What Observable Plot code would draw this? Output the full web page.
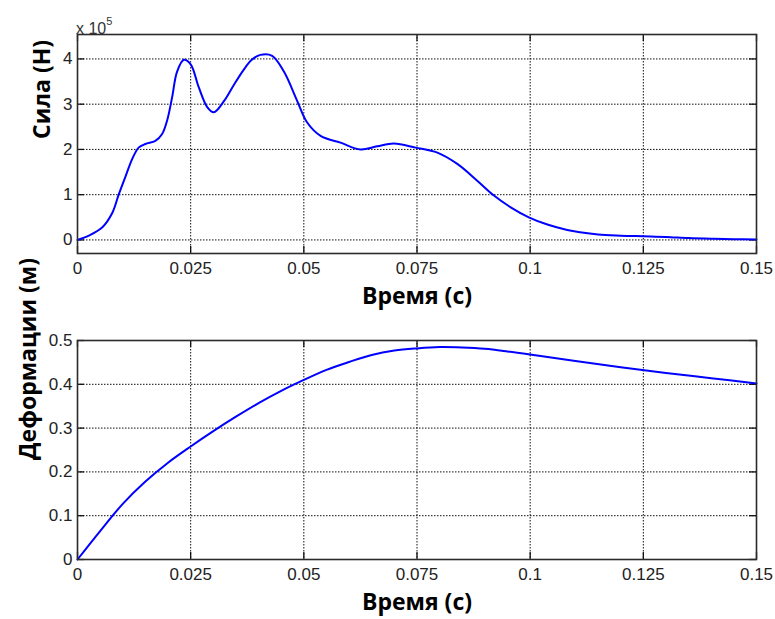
<!DOCTYPE html>
<html>
<head>
<meta charset="utf-8">
<script src="https://cdn.jsdelivr.net/npm/d3@7"></script>
<script src="https://cdn.jsdelivr.net/npm/@observablehq/plot@0.6"></script>
<style>
  html, body { margin: 0; padding: 0; background: #fff; }
  #chart { position: relative; width: 775px; height: 619px; }
  #chart svg { display: block; }
  .multiplier {
    position: absolute; left: 76px; top: 16px;
    font: 16px "Liberation Sans", Arial, sans-serif; line-height: 16px; color: #333;
  }
  .multiplier sup { font-size: 11px; position: relative; top: -3px; }
</style>
</head>
<body>
<div id="chart"></div>
<script>
// Time axis ticks (s)
const xTicks = [0, 0.025, 0.05, 0.075, 0.1, 0.125, 0.15];
const xTickLabels = ["0", "0.025", "0.05", "0.075", "0.1", "0.125", "0.15"];

// Impact force, in units of 10^5 N
const forceTime = [0, 0.0025, 0.0055, 0.0077, 0.0091, 0.0106, 0.0121, 0.0135, 0.015, 0.0172,
  0.0187, 0.0198, 0.0209, 0.022, 0.0235, 0.025, 0.0268, 0.0287, 0.0301, 0.0323, 0.0345, 0.0367,
  0.0385, 0.0404, 0.043, 0.0456, 0.0485, 0.0507, 0.0537, 0.0581, 0.0625, 0.0662, 0.0699, 0.0747,
  0.0795, 0.0839, 0.0883, 0.092, 0.0957, 0.0997, 0.1038, 0.1082, 0.111, 0.115, 0.12, 0.125,
  0.13, 0.135, 0.14, 0.145, 0.15];
const forceValue = [0, 0.095, 0.28, 0.6, 1.0, 1.4, 1.79, 2.04, 2.12, 2.19,
  2.34, 2.64, 3.15, 3.72, 3.98, 3.88, 3.37, 2.93, 2.82, 3.06, 3.42, 3.76,
  3.98, 4.09, 4.07, 3.72, 3.08, 2.6, 2.3, 2.15, 2.0, 2.07, 2.13, 2.04,
  1.93, 1.68, 1.31, 0.98, 0.72, 0.5, 0.34, 0.22, 0.17, 0.12, 0.095, 0.08,
  0.065, 0.04, 0.025, 0.015, 0.01];
const forceTicks = [0, 1, 2, 3, 4];
const forceTickLabels = ["0", "1", "2", "3", "4"];

// Deformation (m)
const defTime = [0, 0.005, 0.01, 0.015, 0.02, 0.025, 0.03, 0.035, 0.04, 0.045, 0.05, 0.055, 0.06,
  0.065, 0.07, 0.075, 0.08, 0.085, 0.09, 0.095, 0.1, 0.11, 0.12, 0.13, 0.14, 0.15];
const defValue = [0, 0.065, 0.127, 0.178, 0.221, 0.258, 0.293, 0.326, 0.357, 0.385, 0.410, 0.433, 0.451,
  0.467, 0.477, 0.482, 0.485, 0.484, 0.481, 0.475, 0.468, 0.453, 0.439, 0.426, 0.414, 0.402];
const defTicks = [0, 0.1, 0.2, 0.3, 0.4, 0.5];
const defTickLabels = ["0", "0.1", "0.2", "0.3", "0.4", "0.5"];

const xLabel = "Время (с)";
const forceLabel = "Сила (Н)";
const defLabel = "Деформации (м)";

const W = 775, ML = 77, MR = 19;
const innerW = W - ML - MR;
const TICK = 7;
const tickFont = "'Liberation Sans', Arial, sans-serif";
const labelFont = "'Open Sans', sans-serif";

function panel({time, values, yDomain, yTicks, yTickLabels, yLabel, height, marginTop, marginBottom, yLabelDx, yLabelDy}) {
  const innerH = height - marginTop - marginBottom;
  const rows = time.map((t, i) => ({t, v: values[i]}));
  const grid = {stroke: "#000", strokeOpacity: 0.95, strokeWidth: 1, strokeDasharray: "1.5,1.5"};
  const tick = {stroke: "#111", strokeWidth: 1.3};
  const axisText = {tickSize: 0, label: null, fontSize: 17, fontFamily: tickFont, fill: "#222"};
  const labelText = {text: d => d, fontSize: 23, fontWeight: 700, fontFamily: labelFont, fill: "#000",
    letterSpacing: "0.4px"};
  return Plot.plot({
    width: W, height, marginLeft: ML, marginRight: MR, marginTop, marginBottom,
    style: {fontFamily: tickFont, fontSize: "17px", color: "#222", background: "#fff", overflow: "visible"},
    x: {domain: [0, 0.15]},
    y: {domain: yDomain},
    marks: [
      Plot.gridX(xTicks, grid),
      Plot.gridY(yTicks, grid),
      Plot.tickX(xTicks, {...tick, insetTop: innerH - TICK}),
      Plot.tickX(xTicks, {...tick, insetBottom: innerH - TICK}),
      Plot.tickY(yTicks, {...tick, insetRight: innerW - TICK}),
      Plot.tickY(yTicks, {...tick, insetLeft: innerW - TICK}),
      Plot.line(rows, {x: "t", y: "v", stroke: "#0000ff", strokeWidth: 2, curve: "catmull-rom"}),
      Plot.frame({stroke: "#2b2b2b", strokeWidth: 1.6}),
      Plot.axisX(xTicks, {...axisText, tickPadding: 8, tickFormat: (d, i) => xTickLabels[i]}),
      Plot.axisY(yTicks, {...axisText, tickPadding: 5, tickFormat: (d, i) => yTickLabels[i]}),
      Plot.text([xLabel], {...labelText, frameAnchor: "bottom", dy: 34, lineAnchor: "top"}),
      Plot.text([yLabel], {...labelText, frameAnchor: "left", dx: yLabelDx, dy: yLabelDy, rotate: -90,
        lineAnchor: "middle"})
    ]
  });
}

const chart = document.getElementById("chart");

chart.append(panel({
  time: forceTime, values: forceValue, yDomain: [-0.3, 4.54],
  yTicks: forceTicks, yTickLabels: forceTickLabels, yLabel: forceLabel,
  height: 315, marginTop: 34, marginBottom: 62, yLabelDx: -35, yLabelDy: -5
}));

chart.append(panel({
  time: defTime, values: defValue, yDomain: [0, 0.5],
  yTicks: defTicks, yTickLabels: defTickLabels, yLabel: defLabel,
  height: 304, marginTop: 25, marginBottom: 60, yLabelDx: -49, yLabelDy: 10
}));

const mult = document.createElement("div");
mult.className = "multiplier";
mult.innerHTML = "x 10<sup>5</sup>";
chart.append(mult);
</script>
</body>
</html>
